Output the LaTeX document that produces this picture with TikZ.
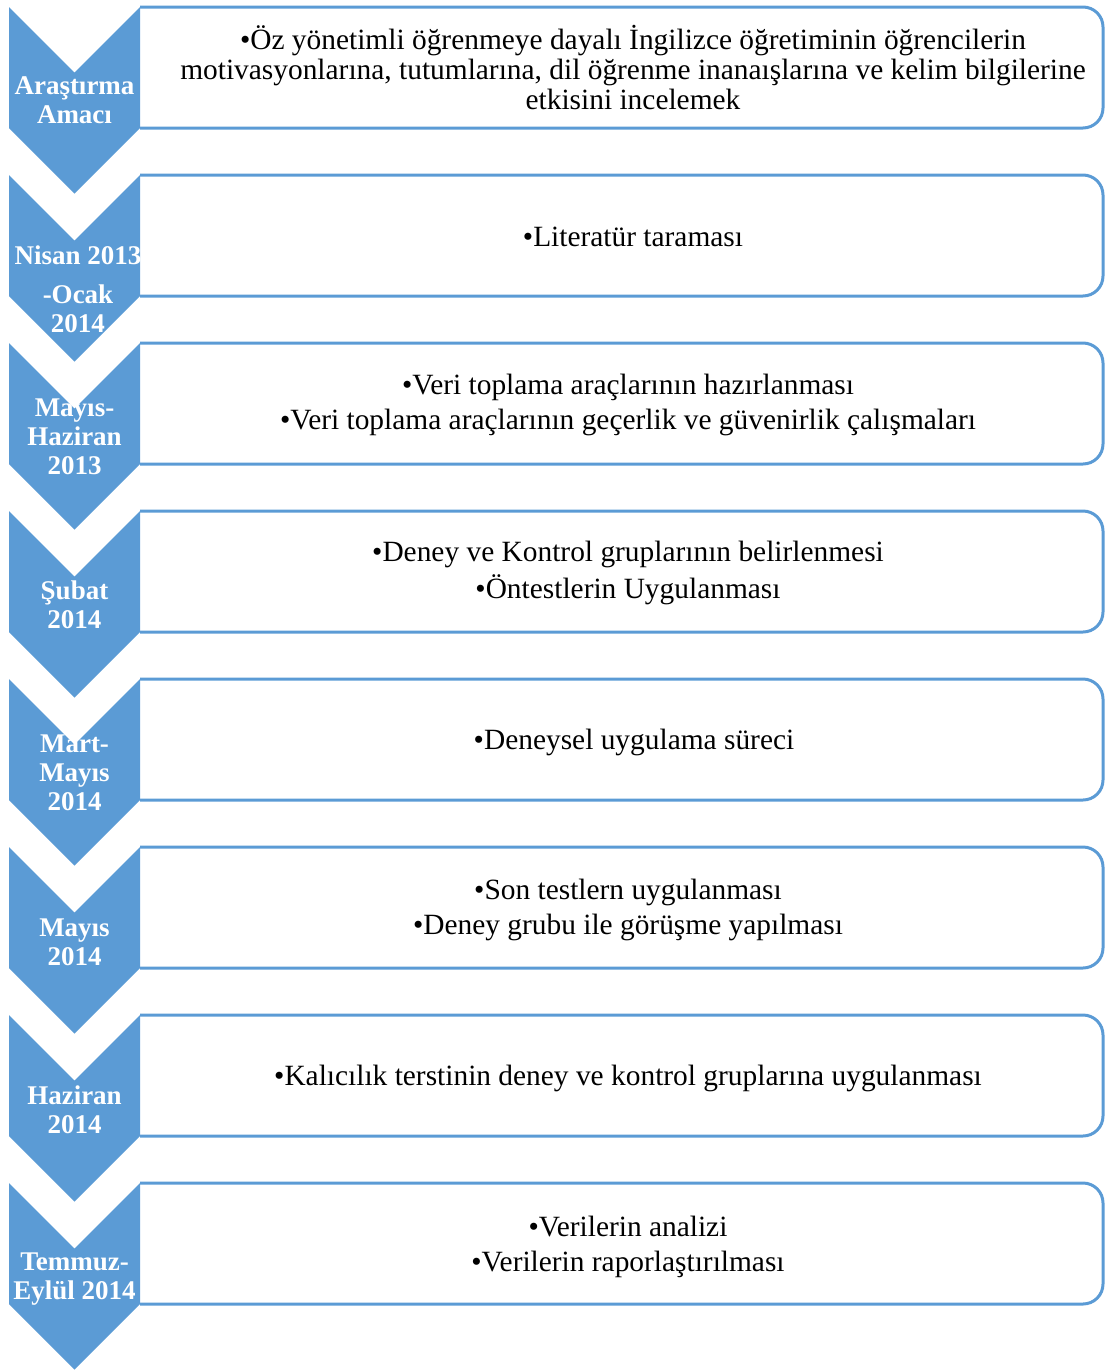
\documentclass[tikz,border=0pt]{standalone}
\usepackage{fontspec}
\setmainfont{Liberation Serif}
\definecolor{chev}{HTML}{5B9BD5}
\tikzset{
  chevshape/.style={fill=chev, draw=none},
  boxline/.style={draw=chev, line width=1.5pt, rounded corners=10pt},
  lbl/.style={text=white, font=\bfseries\fontsize{13.5}{14.5}\selectfont, align=center, inner sep=0pt},
  txt/.style={text=black, font=\fontsize{14.7}{15}\selectfont, align=center, inner sep=0pt},
}
\newcommand{\rowshape}[1]{%
  \pgfmathsetmacro{\ya}{#1}%
  \draw[boxline] (140,\ya) -- (1103,\ya) -- (1103,\ya+121) -- (140,\ya+121);
  \fill[chevshape] (9,\ya) -- (74.5,\ya+65.5) -- (140,\ya) -- (140,\ya+121) -- (74.5,\ya+186.5) -- (9,\ya+121) -- cycle;
}
\begin{document}
\begin{tikzpicture}[x=0.5pt,y=-0.5pt]
\useasboundingbox (0,0) rectangle (1105,1371);
\rowshape{7}
\rowshape{175}
\rowshape{343}
\rowshape{511}
\rowshape{679}
\rowshape{847}
\rowshape{1015}
\rowshape{1183}
% chevron labels
\node[lbl] (c1) at (74.5,100) {Araştırma\\Amacı};
\node[lbl] (c2) at (78,289) {Nisan 2013\\[5pt]-Ocak\\2014};
\node[lbl] (c3) at (74.5,437) {Mayıs-\\Haziran\\2013};
\node[lbl] (c4) at (74.5,605) {Şubat\\2014};
\node[lbl] (c5) at (74.5,773) {Mart-\\Mayıs\\2014};
\node[lbl] (c6) at (74.5,942) {Mayıs\\2014};
\node[lbl] (c7) at (74.5,1110) {Haziran\\2014};
\node[lbl] (c8) at (74.5,1279) {Temmuz-\\Eylül 2014};
% box texts
\node[txt] (t1) at (633,68) {•Öz yönetimli öğrenmeye dayalı İngilizce öğretiminin öğrencilerin\\motivasyonlarına, tutumlarına, dil öğrenme inanaışlarına ve kelim bilgilerine\\etkisini incelemek};
\node[txt] (t2) at (633,237) {•Literatür taraması};
\node[txt] (t3) at (628,405) {•Veri toplama araçlarının hazırlanması\\[2.5pt]•Veri toplama araçlarının geçerlik ve güvenirlik çalışmaları};
\node[txt] (t4) at (628,573) {•Deney ve Kontrol gruplarının belirlenmesi\\[2.5pt]•Öntestlerin Uygulanması};
\node[txt] (t5) at (634,742) {•Deneysel uygulama süreci};
\node[txt] (t6) at (628,910) {•Son testlern uygulanması\\[2.5pt]•Deney grubu ile görüşme yapılması};
\node[txt] (t7) at (628,1078) {•Kalıcılık terstinin deney ve kontrol gruplarına uygulanması};
\node[txt] (t8) at (628,1247) {•Verilerin analizi\\[2.5pt]•Verilerin raporlaştırılması};
\end{tikzpicture}
\end{document}
